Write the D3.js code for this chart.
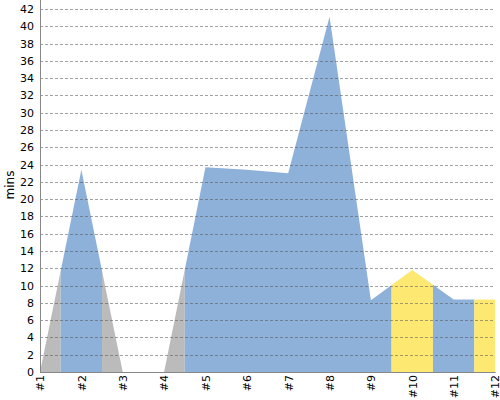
<!DOCTYPE html>
<html>
<head>
<meta charset="utf-8">
<script src="https://cdn.jsdelivr.net/npm/d3@7"></script>
<style>
  body { margin: 0; background: #fff; }
  text { font-family: "DejaVu Sans", sans-serif; }
</style>
</head>
<body>
<div id="chart"></div>
<script>
const labels = ["#1","#2","#3","#4","#5","#6","#7","#8","#9","#10","#11","#12"]
const mins = [0, 23.4, 0, 0, 23.7, 23.4, 23.0, 41.1, 8.3, 11.8, 8.4, 8.4]
const kinds = ["g","b","g","g","b","b","b","b","b","y","b","y"]
const colors = {g: "#bbbbbb", b: "#8eb1da", y: "#fde972"}
const yTicks = d3.range(0, 43, 2)

const width = 500,
      height = 400,
      mLeft = 40,
      mRight = 495,
      mTop = 8,
      mBottom = 372

const svg = d3.select("#chart")
              .append("svg")
              .attr("width", width)
              .attr("height", height)

const xScale = d3.scalePoint()
                 .domain(labels)
                 .range([mLeft, mRight])

const yScale = d3.scaleLinear()
                 .domain([0, 42])
                 .range([mBottom, mTop + 1])

const step = xScale.step()
const data = labels.map((l, i) => ({label: l, v: mins[i], k: kinds[i]}))

// group consecutive points of the same kind so same colours don't show seams
let runs = []
data.forEach(d => {
   const last = runs[runs.length - 1]
   if (last && last.k == d.k) last.end = d.label
   else runs.push({k: d.k, start: d.label, end: d.label})
})

const area = d3.area()
               .x(d => xScale(d.label))
               .y0(yScale(0))
               .y1(d => yScale(d.v))

const defs = svg.append("defs")
runs.forEach((r, i) => {
   const x0 = Math.max(mLeft, xScale(r.start) - step / 2)
   const x1 = Math.min(mRight, xScale(r.end) + step / 2)
   defs.append("clipPath")
       .attr("id", "c" + i)
       .append("rect")
       .attr("x", x0)
       .attr("y", 0)
       .attr("width", x1 - x0)
       .attr("height", height)
})

svg.selectAll("path.seg")
   .data(runs)
   .enter()
   .append("path")
   .attr("class", "seg")
   .attr("clip-path", (d, i) => "url(#c" + i + ")")
   .attr("d", area(data))
   .attr("fill", d => colors[d.k])

// grid
svg.append("g")
   .selectAll("line")
   .data(yTicks.filter(t => t > 0))
   .enter()
   .append("line")
   .attr("x1", mLeft)
   .attr("x2", mRight)
   .attr("y1", d => Math.round(yScale(d)) + 0.5)
   .attr("y2", d => Math.round(yScale(d)) + 0.5)
   .attr("stroke", "#555")
   .attr("stroke-opacity", 0.55)
   .attr("stroke-dasharray", "3,2")

const y_axis = d3.axisLeft(yScale)
                 .tickValues(yTicks)
                 .tickSize(0)
                 .tickPadding(6)

svg.append("g")
   .attr("transform", "translate(" + mLeft + ",0)")
   .call(y_axis)
   .call(g => g.select(".domain").attr("stroke", "#888").attr("d", "M0.5,0V" + (mBottom + 0.5)))
   .call(g => g.selectAll("text").attr("font-size", 11).attr("fill", "#000"))

const x_axis = d3.axisBottom(xScale)
                 .tickSize(0)

svg.append("g")
   .attr("transform", "translate(0," + mBottom + ")")
   .call(x_axis)
   .call(g => g.select(".domain").attr("stroke", "#888").attr("d", "M" + mLeft + ",0.5H" + (mRight + 0.5)))
   .call(g => g.selectAll("text")
               .attr("font-size", 11)
               .attr("fill", "#000")
               .attr("text-anchor", "end")
               .attr("dy", "0.35em")
               .attr("transform", "translate(0,3) rotate(-90)")
               .attr("x", 0)
               .attr("y", 0))

svg.append("text")
   .attr("transform", "translate(14,185) rotate(-90)")
   .attr("text-anchor", "middle")
   .attr("font-size", 12)
   .text("mins")
</script>
</body>
</html>
